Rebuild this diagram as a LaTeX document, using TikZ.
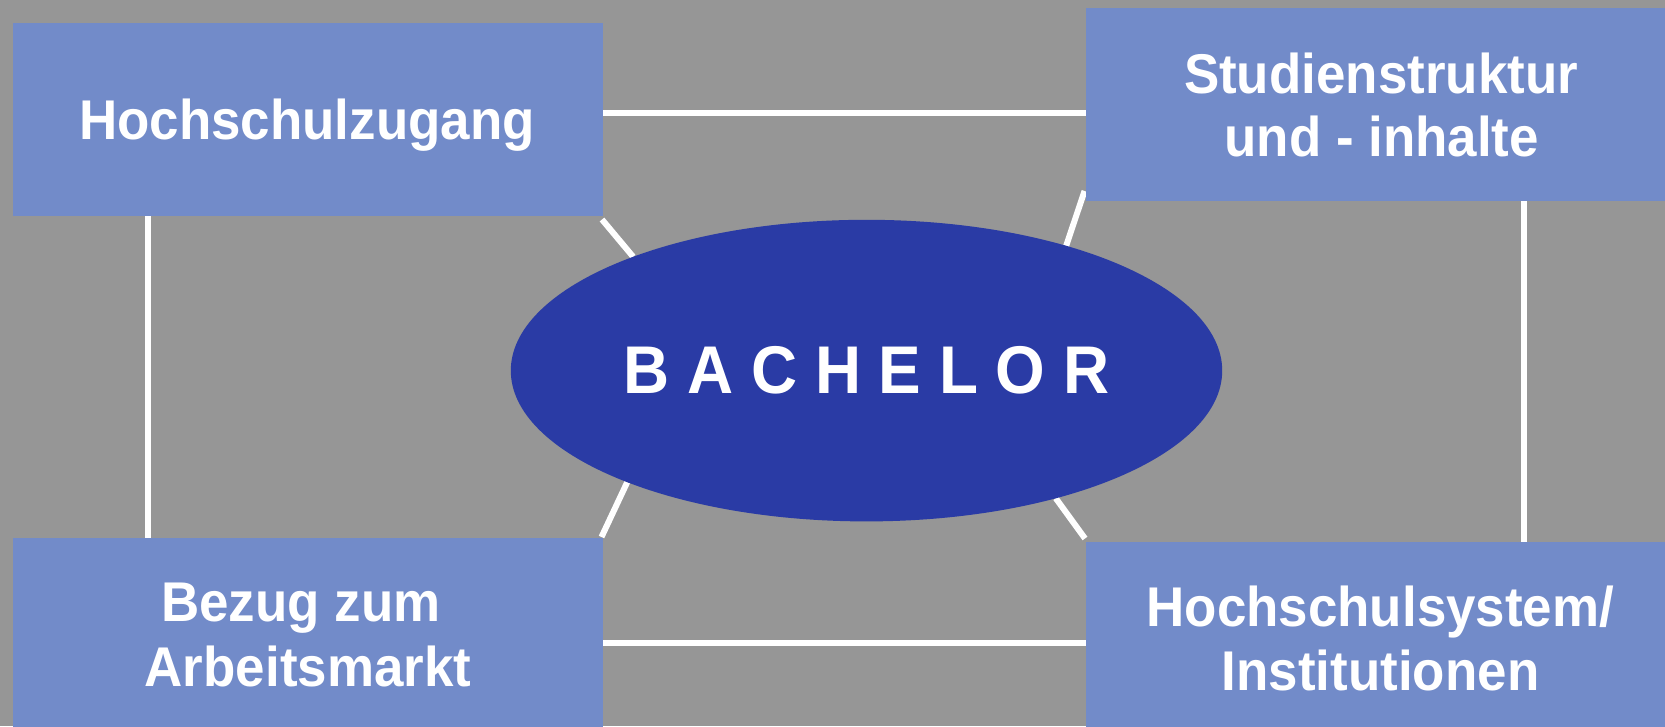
\documentclass[tikz,border=0pt]{standalone}
\usepackage{fontspec}
\setmainfont{Liberation Sans}[FakeStretch=0.945]
\usetikzlibrary{shapes.geometric}
\pgfdeclarelayer{background}
\pgfsetlayers{background,main}
\definecolor{bgc}{RGB}{150,150,150}
\definecolor{boxc}{RGB}{114,139,201}
\definecolor{ellc}{RGB}{42,59,165}
\begin{document}
\begin{tikzpicture}[x=1pt,y=-1pt,
  box/.style={fill=boxc, draw=none, minimum width=590pt, minimum height=193pt, inner sep=0pt, outer sep=0pt},
  lbl/.style={text=white, font=\fontsize{56}{64}\selectfont\bfseries, anchor=base, inner sep=0pt},
  conn/.style={draw=white, line width=6pt},
  ell/.style={ellipse, fill=ellc, draw=none, minimum width=711.4pt, minimum height=301.6pt, inner sep=0pt, outer sep=0pt, text=white, font=\fontsize{67.5}{70}\selectfont\bfseries}]
\useasboundingbox (0,0) rectangle (1665,726);
% boxes
\node[box] (TL) at (308,119.5) {};
\node[box] (TR) at (1381,104.5) {};
\node[box] (BL) at (308,634) {};
\node[box] (BR) at (1381,638) {};
% texts
\node[lbl] (TLa) at (307,139.3) {Hochschulzugang};
\node[lbl] (TRa) at (1381,93.3) {Studienstruktur};
\node[lbl] (TRb) at (1381.7,156.7) {und - inhalte};
\node[lbl] (BLa) at (301,621.7) {Bezug zum};
\node[lbl] (BLb) at (308,686) {Arbeitsmarkt};
\node[lbl] (BRa) at (1380.3,626) {Hochschulsystem/};
\node[lbl] (BRb) at (1380.6,690) {Institutionen};
% ellipse
\node[ell] (E) at (866.5,370.6) {B A C H E L O R};
% helper coordinates
\coordinate (ty) at (0,113);
\coordinate (by) at (0,642.5);
\coordinate (lx) at (148,0);
\coordinate (rx) at (1524,0);
\begin{pgfonlayer}{background}
  \fill[bgc] (0,0) rectangle (1665,726);
  \draw[conn] (TL.east |- ty) -- (TR.west |- ty);
  \draw[conn] (BL.east |- by) -- (BR.west |- by);
  \draw[conn] (TL.south -| lx) -- (BL.north -| lx);
  \draw[conn] (TR.south -| rx) -- (BR.north -| rx);
  \draw[conn] (E.154.5) -- ([shift={(-1pt,-3.5pt)}]TL.south east);
  \draw[conn] (E.32.6) -- ([shift={(-1.5pt,10pt)}]TR.south west);
  \draw[conn] (E.205.3) -- ([shift={(-1.5pt,0.5pt)}]BL.north east);
  \draw[conn] (E.326.2) -- ([shift={(-1pt,3pt)}]BR.north west);
\end{pgfonlayer}
\end{tikzpicture}
\end{document}
